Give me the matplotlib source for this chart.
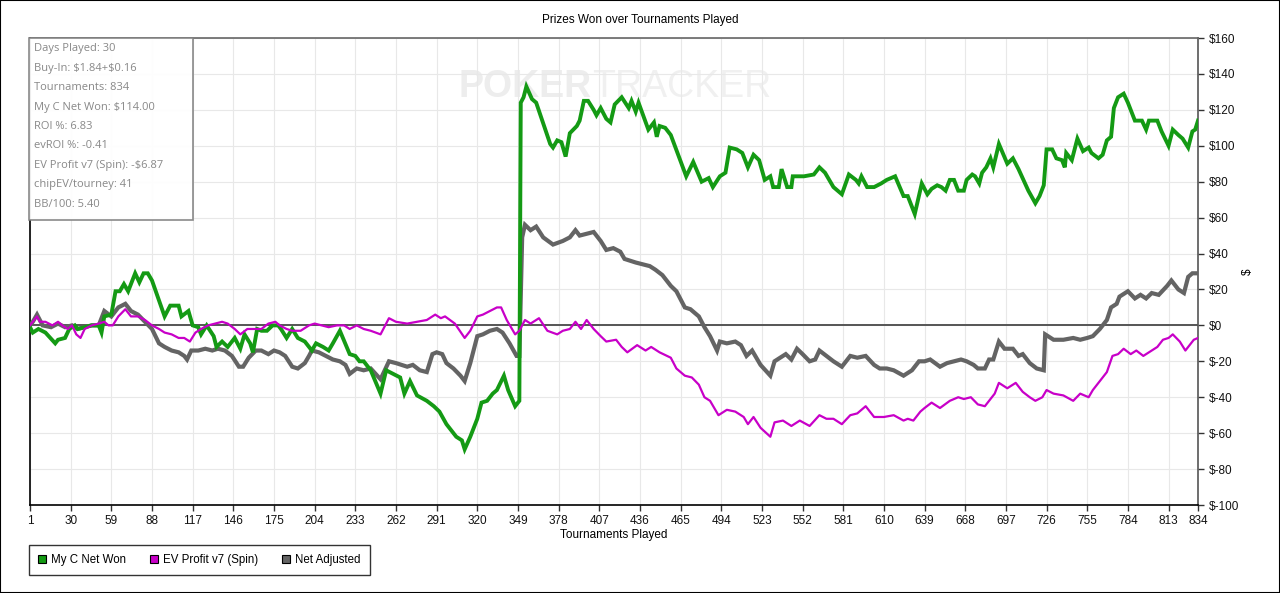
import matplotlib
matplotlib.use('Agg')
import matplotlib.pyplot as plt
from matplotlib.patches import Rectangle, Patch

plt.rcParams['font.family'] = ['Liberation Sans', 'DejaVu Sans']

# My C Net Won (tournament, $)
won_t = [1, 3, 7, 12, 19, 21, 26, 29, 33, 35, 40, 45, 50, 52, 54, 59, 62, 65, 68, 71, 73, 76, 79, 82,
         85, 88, 97, 101, 107, 109, 114, 117, 121, 123, 127, 132, 134, 138, 142, 147, 151, 154, 158,
         160, 163, 166, 170, 174, 178, 180, 184, 188, 192, 197, 202, 205, 210, 214, 217, 222, 229,
         233, 236, 239, 244, 251, 255, 260, 265, 268, 272, 277, 284, 289, 293, 298, 305, 309, 311,
         315, 320, 323, 327, 331, 334, 339, 342, 347, 350, 351, 353, 355, 359, 362, 372, 374, 377,
         380, 383, 386, 391, 393, 396, 399, 403, 405, 408, 412, 415, 418, 423, 428, 430, 433, 435,
         442, 446, 448, 450, 454, 458, 469, 474, 480, 485, 488, 493, 497, 500, 505, 509, 513, 517,
         521, 525, 529, 531, 535, 537, 541, 544, 545, 553, 560, 564, 568, 574, 580, 585, 590, 592,
         594, 598, 603, 608, 612, 618, 624, 627, 632, 637, 641, 644, 648, 651, 654, 657, 660, 663,
         667, 669, 673, 675, 678, 680, 683, 686, 688, 692, 698, 702, 706, 713, 718, 721, 724, 726,
         730, 733, 737, 739, 740, 744, 748, 752, 756, 758, 763, 766, 769, 772, 774, 776, 777, 781,
         784, 789, 794, 797, 799, 805, 808, 813, 816, 820, 823, 827, 830, 832, 834]
won_v = [-1, -4, -2, -4, -10, -8, -7, -2, 0, -2, -1, 0, 0, -4, 5, 6, 19, 19, 23, 19, 23, 29, 24, 29,
         29, 25, 5, 11, 11, 5, 8, 0, -1, -5, 0, -6, -12, -9, -12, -7, -13, -5, -10,
         -15, -2, -3, -3, 0, 0, -2, -7, -2, -7, -9, -14, -10, -12, -14, -10, -3, -16,
         -17, -20, -20, -25, -38, -25, -27, -29, -38, -31, -39, -42, -45, -48, -55, -62, -64, -69,
         -62, -52, -43, -42, -38, -36, -28, -36, -45, -42, 124, 127, 133, 126, 124, 101, 99, 103,
         102, 94, 107, 111, 114, 125, 125, 120, 117, 121, 115, 113, 123, 127, 121, 125, 119, 124,
         109, 113, 105, 111, 110, 106, 83, 91, 80, 82, 77, 83, 85, 99, 98, 96, 88, 95,
         92, 81, 83, 77, 77, 87, 77, 77, 83, 83, 84, 88, 85, 77, 73, 84, 81, 79,
         83, 77, 77, 79, 81, 83, 72, 72, 62, 79, 73, 76, 78, 77, 75, 81, 81, 75,
         75, 81, 84, 83, 79, 85, 88, 93, 88, 101, 90, 93, 87, 75, 68, 72, 78, 98,
         98, 93, 92, 88, 96, 92, 104, 97, 99, 96, 93, 95, 103, 105, 121, 125, 127, 129,
         124, 114, 114, 109, 114, 114, 108, 100, 109, 106, 104, 99, 108, 109, 114]

# EV Profit v7 (Spin)
ev_t = [1, 6, 8, 12, 17, 21, 24, 28, 31, 34, 37, 40, 45, 50, 54, 57, 60, 64, 69, 73, 78, 83, 88,
        93, 97, 102, 107, 111, 115, 119, 123, 128, 133, 138, 142, 147, 151, 156, 161, 166, 171,
        176, 179, 184, 188, 194, 200, 204, 209, 214, 220, 225, 229, 234, 239, 244, 251, 257, 262,
        270, 277, 284, 290, 294, 297, 304, 311, 315, 320, 324, 329, 334, 337, 341, 347, 350, 354,
        358, 364, 370, 377, 381, 386, 390, 394, 398, 403, 408, 412, 419, 423, 427, 434, 440, 444,
        450, 458, 462, 468, 473, 478, 482, 486, 492, 498, 504, 510, 513, 517, 522, 529, 532, 538,
        544, 550, 557, 564, 569, 574, 580, 586, 591, 597, 603, 610, 617, 624, 627, 631, 636, 639,
        644, 650, 657, 663, 667, 672, 677, 682, 689, 692, 698, 704, 709, 714, 718, 723, 726, 731,
        738, 745, 750, 756, 759, 764, 769, 773, 777, 781, 786, 790, 795, 799, 805, 809, 813, 816,
        821, 825, 828, 831, 834]
ev_v = [0, 5, 2, 2, 0, 2, 0, -2, 0, -5, -7, -2, 0, 1, 2, 0, 0, 5, 9, 5, 5, 3, 0,
        -2, -4, -5, -7, -7, -9, -4, -2, 0, 1, 2, 1, -2, -5, -2, -2, -2, 1,
        2, 0, -2, -3, -3, 0, 1, 0, -1, 0, 0, -2, 0, -2, -3, -5, 4, 2,
        1, 2, 3, 6, 4, 5, 1, -7, -3, 5, 6, 8, 10, 10, 3, -5, -3, 3,
        1, 4, -3, -5, -3, -2, 2, -2, 3, -2, -6, -9, -8, -12, -15, -11, -14, -12,
        -15, -18, -24, -28, -29, -33, -40, -42, -50, -47, -48, -51, -55, -51, -57, -62, -54, -53,
        -56, -53, -56, -50, -52, -52, -55, -50, -49, -45, -51, -51, -50, -53, -52, -53, -48, -46,
        -43, -46, -42, -40, -41, -40, -44, -45, -38, -32, -35, -32, -37, -40, -42, -40, -36, -38,
        -39, -42, -38, -40, -36, -31, -26, -17, -16, -13, -16, -14, -17, -15, -12, -8, -7, -5,
        -9, -14, -11, -8, -7]

# Net Adjusted
adj_t = [1, 3, 6, 10, 16, 21, 26, 31, 35, 40, 45, 50, 54, 59, 64, 69, 73, 78, 83, 88, 93, 97,
         102, 107, 111, 113, 116, 121, 126, 131, 135, 140, 145, 150, 153, 157, 162, 166, 171, 175,
         179, 183, 188, 192, 197, 200, 202, 207, 212, 217, 222, 226, 229, 234, 239, 244, 251, 257,
         262, 270, 274, 279, 284, 288, 291, 295, 298, 303, 308, 311, 315, 320, 324, 329, 334, 338,
         343, 348, 350, 352, 354, 358, 362, 367, 374, 381, 386, 390, 393, 398, 403, 408, 412, 417,
         422, 425, 429, 433, 438, 443, 447, 452, 458, 462, 468, 472, 478, 482, 486, 491, 493, 498,
         504, 508, 512, 516, 522, 529, 532, 536, 540, 544, 548, 552, 557, 561, 564, 569, 574, 580,
         586, 591, 597, 603, 607, 612, 617, 624, 630, 635, 639, 643, 650, 655, 660, 665, 669, 674,
         677, 682, 685, 688, 692, 696, 702, 706, 709, 714, 719, 724, 725, 731, 738, 745, 750, 755,
         759, 764, 769, 772, 776, 778, 784, 789, 793, 797, 801, 806, 812, 815, 820, 824, 827, 830,
         834]
adj_v = [0, 2, 6, 0, -1, 1, -1, 0, -2, -1, 0, 0, 8, 5, 10, 12, 8, 6, 2, -2, -10, -12,
         -14, -15, -17, -19, -14, -14, -13, -14, -13, -14, -17, -23, -23, -18, -14, -14, -16, -14,
         -15, -17, -23, -24, -21, -17, -14, -15, -17, -19, -20, -22, -27, -24, -25, -24, -30, -20,
         -21, -23, -22, -25, -26, -16, -15, -16, -21, -24, -28, -31, -21, -6, -5, -3, -2, -4,
         -10, -17, -17, 49, 56, 53, 55, 49, 45, 47, 49, 53, 50, 51, 52, 47, 42, 43,
         41, 37, 36, 35, 34, 33, 31, 28, 22, 19, 10, 9, 5, -1, -6, -14, -9, -10,
         -9, -11, -17, -14, -22, -28, -20, -18, -16, -19, -13, -16, -20, -19, -14, -17, -20, -23,
         -17, -18, -17, -22, -24, -24, -25, -28, -25, -20, -20, -19, -23, -21, -20, -19, -20, -22,
         -24, -24, -19, -19, -9, -13, -13, -17, -16, -21, -24, -25, -5, -8, -8, -7, -8, -7,
         -6, -2, 3, 10, 12, 16, 19, 15, 17, 15, 18, 17, 22, 25, 20, 18, 27, 29,
         29]

x_ticks = [1, 30, 59, 88, 117, 146, 175, 204, 233, 262, 291, 320, 349, 378, 407, 436, 465, 494,
           523, 552, 581, 610, 639, 668, 697, 726, 755, 784, 813, 834]
y_ticks = [-100, -80, -60, -40, -20, 0, 20, 40, 60, 80, 100, 120, 140, 160]

stats = ['Days Played: 30', 'Buy-In: \\$1.84+\\$0.16', 'Tournaments: 834', 'My C Net Won: \\$114.00',
         'ROI %: 6.83', 'evROI %: -0.41', 'EV Profit v7 (Spin): -\\$6.87', 'chipEV/tourney: 41',
         'BB/100: 5.40']

names = ['My C Net Won', 'EV Profit v7 (Spin)', 'Net Adjusted']
colors = ['#149a14', '#c800c8', '#646464']

W, H = 1280, 593
fig = plt.figure(figsize=(W / 100, H / 100), dpi=100)
ax = fig.add_axes([30 / W, 1 - 505 / H, 1168 / W, 467 / H])

ax.set_xlim(1, 834)
ax.set_ylim(-100, 160)
ax.set_xticks(x_ticks)
ax.set_yticks(y_ticks)
ax.set_yticklabels(['$' + str(v) for v in y_ticks])
ax.yaxis.tick_right()
ax.tick_params(labelsize=8.5, length=4, width=1, colors='#333333', labelcolor='#111111')
ax.grid(True, color='#e8e8e8', lw=0.8)
ax.set_axisbelow(True)

for side in ['left', 'bottom']:
    ax.spines[side].set_color('black')
    ax.spines[side].set_linewidth(1.2)
ax.spines['right'].set_color('#555555')
ax.spines['right'].set_linewidth(1.2)
ax.spines['top'].set_color('#666666')
ax.spines['top'].set_linewidth(1.2)

# watermark
ax.text(0.481, 0.895, 'POKER', transform=ax.transAxes, fontsize=27, fontweight='bold',
        color='#ededed', ha='right', va='center', zorder=0)
ax.text(0.481, 0.895, 'TRACKER', transform=ax.transAxes, fontsize=27, color='#f0f0f0',
        ha='left', va='center', zorder=0)

ax.axhline(0, color='#555555', lw=1.4, zorder=2)
ax.plot(adj_t, adj_v, color=colors[2], lw=3.0, zorder=3, solid_joinstyle='miter')
ax.plot(won_t, won_v, color=colors[0], lw=2.8, zorder=4, solid_joinstyle='miter')
ax.plot(ev_t, ev_v, color=colors[1], lw=1.6, zorder=5)

ax.set_xlabel('Tournaments Played', fontsize=8.5, labelpad=1)
fig.text(1248 / W, 1 - 272 / H, '$', fontsize=8.5, rotation=90, ha='center', va='center')
fig.text(0.5, 1 - 20 / H, 'Prizes Won over Tournaments Played', ha='center', va='center',
         fontsize=8.5)

# info box
fig.patches.append(Rectangle((29 / W, 1 - 220 / H), 164 / W, 182 / H, transform=fig.transFigure,
                             facecolor='white', edgecolor='#808080', lw=1.2, alpha=0.92, zorder=6))
for i, s in enumerate(stats):
    fig.text(34 / W, 1 - (49 + i * 19.4) / H, s, fontsize=8, color='#888888', va='center',
             family=['Open Sans', 'DejaVu Sans'], zorder=7)

handles = [Patch(facecolor=c, edgecolor='black', lw=0.8) for c in colors]
leg = fig.legend(handles, names, loc='lower left', bbox_to_anchor=(29 / W, 1 - 575 / H), ncol=3,
                 fontsize=8.3, frameon=True, fancybox=False, handlelength=0.7, handleheight=0.7,
                 handletextpad=0.4, columnspacing=2.1, borderpad=0.8, borderaxespad=0)
leg.get_frame().set_edgecolor('black')
leg.get_frame().set_linewidth(1.0)

fig.patches.append(Rectangle((0, 0), 1, 1, transform=fig.transFigure, fill=False,
                             edgecolor='black', lw=1.5))

fig.savefig('out.png', dpi=100)
